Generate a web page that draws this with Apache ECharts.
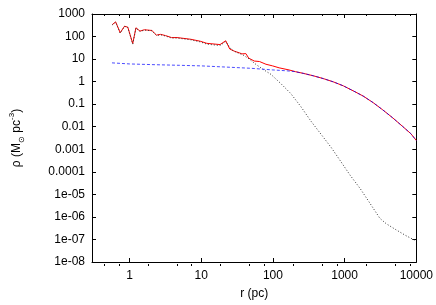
<!DOCTYPE html>
<html><head><meta charset="utf-8">
<script src="https://cdn.jsdelivr.net/npm/echarts@6/dist/echarts.min.js"></script>
<style>html,body{margin:0;padding:0;background:#fff}#c{width:436px;height:305px}</style>
</head><body><div id="c"></div>
<script>
// Total density (red)
const totalR   = [0.576,0.641,0.742,0.853,0.947,1.11,1.23,1.40,1.61,2.05,2.38,2.72,3.19,3.86,4.6,7.1,9.7,12,18.3,22,25,29.4,34,37,42,46,55,65,80,99,122,168,208,270,370,510,700,960,1320,1810,2500,3400,4670,6400,8400,10000];
const totalRho = [340,447,148,288,260,49,245,174,200,186,116,125,110,90,90,76,62,50,44,65,28,22,19,17,17.5,11,8.2,7.8,5.9,5.0,4.1,3.3,2.75,2.3,1.8,1.35,0.97,0.65,0.39,0.23,0.117,0.056,0.025,0.0105,0.0049,0.00245];
// Stellar density (black dotted)
const starR    = [0.576,0.641,0.742,0.853,0.947,1.11,1.23,1.40,1.61,2.05,2.38,2.72,3.19,3.86,4.6,7.1,9.7,12,18.3,22,26.5,31,38,47,58,72,94,129,177,244,340,470,650,870,1200,1650,2260,3100,3800,5200,7100,10000];
const starRho  = [330,437,142,280,252,46,238,168,194,180,111,120,105,86,86,72,58,46,40,60,26,20,15.5,10,5.8,3.6,2.1,0.82,0.30,0.08,0.0175,0.0046,0.0012,3.1e-4,6.9e-5,1.8e-5,4e-6,8.7e-7,5e-7,2.7e-7,1.5e-7,8.5e-8];
// Dark matter density (blue dashed)
const dmR      = [0.57,1,2,5,10,20,50,100,150,200,270,370,510,700,960,1320,1810,2500,3400,4670,6400,8400,10000];
const dmRho    = [6.8,6.1,5.7,5.3,5.0,4.5,3.9,3.3,3.05,2.8,2.3,1.8,1.35,0.97,0.65,0.39,0.23,0.117,0.056,0.025,0.0105,0.0049,0.00245];
// Ticks
const xMajor = [1,10,100,1000,10000];
const xMinor = [0.5,0.8,2,5,8,20,50,80,200,500,800,2000,5000,8000];
const yTicks = [1e-8,1e-7,1e-6,1e-5,1e-4,1e-3,1e-2,1e-1,1,10,100,1000];
const yLabels = ['1e-08','1e-07','1e-06','1e-05','0.0001','0.001','0.01','0.1','1','10','100','1000'];

const zip = (a,b) => a.map((v,i)=>[v,b[i]]);
const font = 'Liberation Sans, Arial, sans-serif';
const grid = {left:88, right:19, top:14, bottom:39};
const line = {show:true, lineStyle:{color:'#000', width:1}};
const yFmt = v => { const k = Math.round(Math.log10(v)); const i = k + 8; return yLabels[i] !== undefined ? yLabels[i] : ''; };

function xAx(gi, pos, ticks, len, labels) {
  return {type:'log', gridIndex:gi, position:pos, min:0.3, max:10000, logBase:10,
    axisLine: gi===0 ? line : {show:false},
    axisTick:{show:true, inside:true, length:len, customValues:ticks, lineStyle:{color:'#000', width:1}},
    axisLabel: labels ? {show:true, customValues:xMajor, color:'#000', fontSize:12, fontFamily:font, margin:8, formatter: v => String(Math.round(v))} : {show:false},
    splitLine:{show:false}, minorTick:{show:false}, minorSplitLine:{show:false}};
}
function yAx(gi, pos, show, labels) {
  return {type:'log', gridIndex:gi, position:pos, min:1e-8, max:1000, logBase:10,
    axisLine: show ? line : {show:false},
    axisTick:{show:show, inside:true, length:4, customValues:yTicks, lineStyle:{color:'#000', width:1}},
    axisLabel: labels ? {show:true, customValues:yTicks, color:'#000', fontSize:12, fontFamily:font, margin:7, formatter:yFmt} : {show:false},
    splitLine:{show:false}};
}

const xA0 = xAx(0,'bottom',xMajor,4,true);
xA0.name = 'r (pc)'; xA0.nameLocation = 'middle'; xA0.nameGap = 26;
xA0.nameTextStyle = {color:'#000', fontSize:12, fontFamily:font};
const yA0 = yAx(0,'left',true,true);
yA0.name = 'ρ (M{sub|⊙} pc{sup|-3})'; yA0.nameLocation = 'middle'; yA0.nameGap = 66;
yA0.nameTextStyle = {color:'#000', fontSize:12, fontFamily:font, lineHeight:18,
  rich:{sub:{fontSize:8, fontFamily:font, color:'#000', verticalAlign:'bottom', lineHeight:18},
        sup:{fontSize:8, fontFamily:font, color:'#000', verticalAlign:'top', lineHeight:18}}};

const chart = echarts.init(document.getElementById('c'), null, {renderer:'canvas'});
chart.setOption({
  animation:false,
  backgroundColor:'#fff',
  grid:[Object.assign({},grid), Object.assign({},grid)],
  xAxis:[xA0, xAx(0,'top',xMajor,4,false), xAx(1,'bottom',xMinor,2,false), xAx(1,'top',xMinor,2,false)],
  yAxis:[yA0, yAx(0,'right',true,false), yAx(1,'left',false,false)],
  series:[
    {type:'line', xAxisIndex:0, yAxisIndex:0, data:zip(totalR,totalRho), showSymbol:false, lineStyle:{color:'#ff0000', width:1}, z:2},
    {type:'line', xAxisIndex:0, yAxisIndex:0, data:zip(starR,starRho), showSymbol:false, lineStyle:{color:'#333', width:1, type:[1,2]}, z:3},
    {type:'line', xAxisIndex:0, yAxisIndex:0, data:zip(dmR,dmRho), showSymbol:false, lineStyle:{color:'#0000ff', width:1, type:[3,2], opacity:0.7}, z:4}
  ]
});
</script></body></html>
